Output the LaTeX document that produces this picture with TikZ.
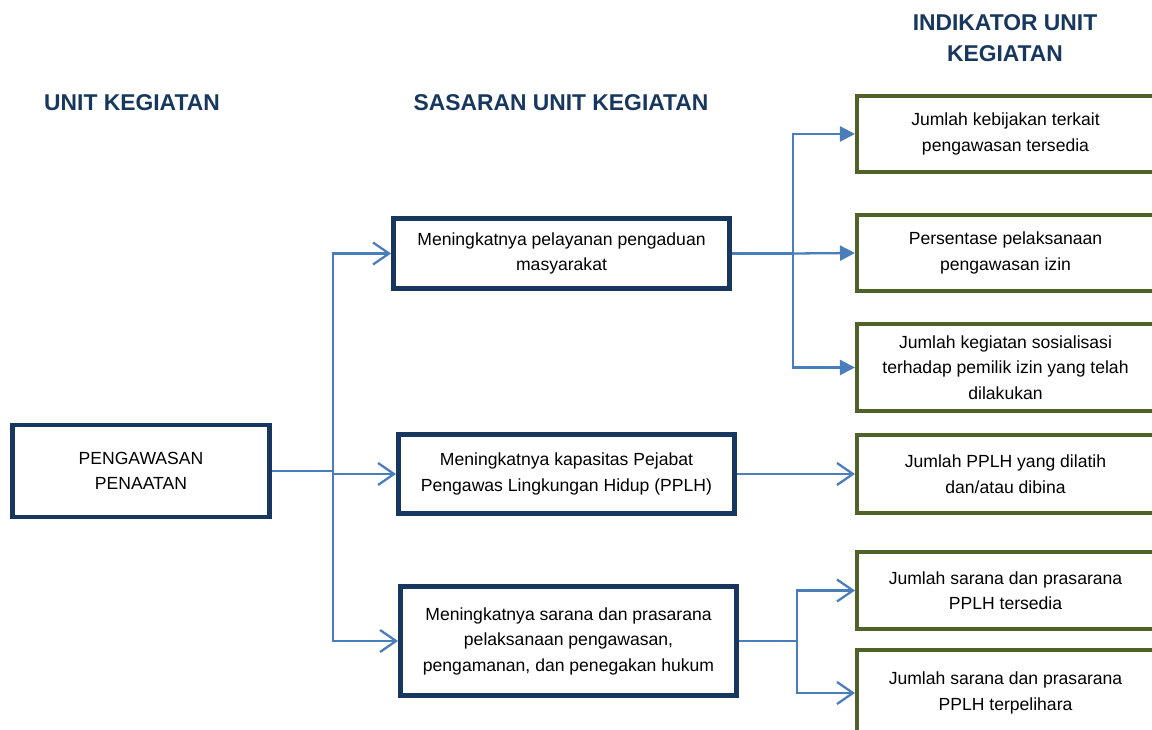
\documentclass[tikz,border=0pt]{standalone}
\usepackage{fontspec}
\setmainfont{Liberation Sans}
\usetikzlibrary{arrows.meta}
\definecolor{navy}{HTML}{17375E}
\definecolor{olive}{HTML}{4F6228}
\definecolor{linkblue}{HTML}{4A7EBB}
\begin{document}
\begin{tikzpicture}[
    unitbox/.style={draw=navy, line width=2.8pt, fill=white, align=center,
        font=\fontsize{10}{14.5}\selectfont, inner sep=2pt},
    indbox/.style={draw=olive, line width=2.3pt, fill=white, align=center,
        font=\fontsize{10}{14.5}\selectfont, minimum width=5.94cm, inner sep=2pt},
    heading/.style={text=navy, align=center, font=\fontsize{13}{17.5}\selectfont\bfseries},
    link/.style={draw=linkblue, line width=1.3pt},
    openarrow/.style={link, -{Straight Barb[length=3.2mm, width=4.4mm]}},
    fullarrow/.style={link, -{Triangle[length=3mm, width=3mm]}}
]
    \useasboundingbox (0,0) rectangle (23.04,14.58);

    % Headings
    \node[heading] (h1) at (2.64,12.52) {UNIT KEGIATAN};
    \node[heading] (h2) at (11.22,12.52) {SASARAN UNIT KEGIATAN};
    \node[heading] (h3) at (20.1,13.82) {INDIKATOR UNIT\\KEGIATAN};

    % Unit kegiatan
    \node[unitbox, minimum width=5.14cm, minimum height=1.84cm] (pa) at (2.82,5.16)
        {PENGAWASAN\\PENAATAN};

    % Sasaran
    \node[unitbox, minimum width=6.72cm, minimum height=1.4cm] (s1) at (11.23,9.51)
        {Meningkatnya pelayanan pengaduan\\masyarakat};
    \node[unitbox, minimum width=6.72cm, minimum height=1.58cm] (s2) at (11.33,5.10)
        {Meningkatnya kapasitas Pejabat\\Pengawas Lingkungan Hidup (PPLH)};
    \node[unitbox, minimum width=6.72cm, minimum height=2.18cm] (s3) at (11.37,1.76)
        {Meningkatnya sarana dan prasarana\\pelaksanaan pengawasan,\\pengamanan, dan penegakan hukum};

    % Indikator
    \node[indbox, minimum height=1.52cm] (i1) at (20.11,11.90)
        {Jumlah kebijakan terkait\\pengawasan tersedia};
    \node[indbox, minimum height=1.52cm] (i2) at (20.11,9.52)
        {Persentase pelaksanaan\\pengawasan izin};
    \node[indbox, minimum height=1.74cm] (i3) at (20.11,7.23)
        {Jumlah kegiatan sosialisasi\\terhadap pemilik izin yang telah\\dilakukan};
    \node[indbox, minimum height=1.56cm] (i4) at (20.11,5.10)
        {Jumlah PPLH yang dilatih\\dan/atau dibina};
    \node[indbox, minimum height=1.54cm] (i5) at (20.11,2.77)
        {Jumlah sarana dan prasarana\\PPLH tersedia};
    \node[indbox, minimum height=1.72cm] (i6) at (20.11,0.72)
        {Jumlah sarana dan prasarana\\PPLH terpelihara};

    % Connectors
    \coordinate (j1) at (6.66,5.16);
    \coordinate (j2) at (15.86,9.51);
    \coordinate (j3) at (15.94,1.76);

    \draw[link] (pa.east) -- (j1);
    \draw[openarrow] (j1) |- (s1.west);
    \draw[openarrow] (j1) |- (s2.west);
    \draw[openarrow] (j1) |- (s3.west);

    \draw[link] (s1.east) -- (j2);
    \draw[fullarrow] (j2) |- (i1.west);
    \draw[fullarrow] (j2) -- (i2.west);
    \draw[fullarrow] (j2) |- (i3.west);

    \draw[openarrow] (s2.east) -- (i4.west);

    \draw[link] (s3.east) -- (j3);
    \draw[openarrow] (j3) |- (i5.west);
    \draw[openarrow] (j3) |- (i6.west);

\end{tikzpicture}
\end{document}
